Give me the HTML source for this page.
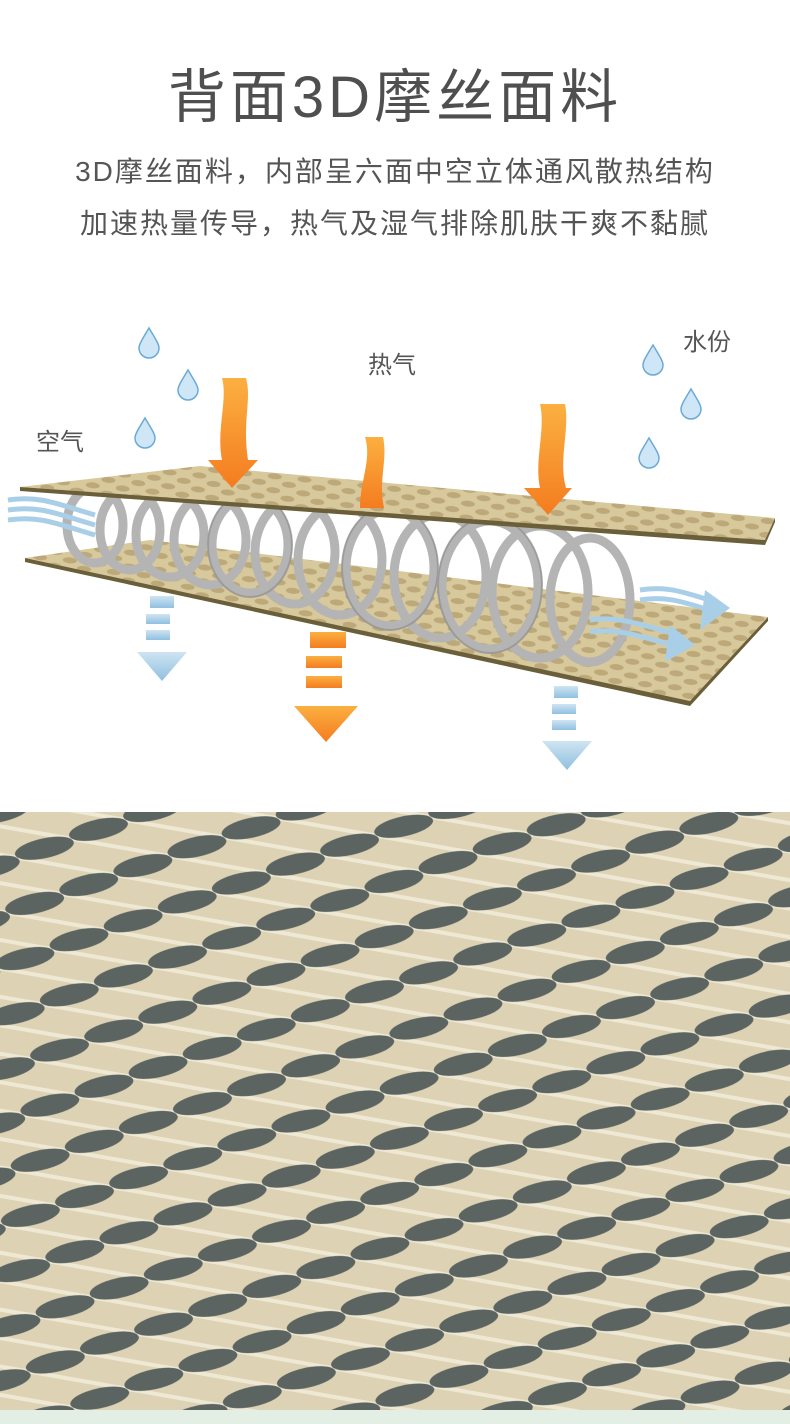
<!DOCTYPE html>
<html><head><meta charset="utf-8"><style>
body{margin:0;width:790px;height:1424px;background:#fff;overflow:hidden;font-family:"Liberation Sans","Noto Sans CJK SC",sans-serif;position:relative}
.t{position:absolute;left:0;width:790px;text-align:center;color:#555}
.lbl{position:absolute;font-size:24px;color:#555}
</style></head><body>
<div class="t" style="top:50px;font-size:58px;letter-spacing:4px;color:#4f4f4f">背面3D摩丝面料</div>
<div class="t" style="top:150px;font-size:28px;letter-spacing:2px">3D摩丝面料，内部呈六面中空立体通风散热结构</div>
<div class="t" style="top:202px;font-size:28px;letter-spacing:2px">加速热量传导，热气及湿气排除肌肤干爽不黏腻</div>
<div class="lbl" style="left:36px;top:422px">空气</div>
<div class="lbl" style="left:368px;top:345px">热气</div>
<div class="lbl" style="left:683px;top:322px">水份</div>
<svg width="790" height="800" style="position:absolute;left:0;top:0">
<defs>
<pattern id="hx" width="30" height="14" patternUnits="userSpaceOnUse" patternTransform="rotate(6)">
<rect width="30" height="14" fill="#d8c99c"/><ellipse cx="8" cy="4" rx="7" ry="3" fill="#bca878"/><ellipse cx="23" cy="11" rx="7" ry="3" fill="#bca878"/></pattern>
<linearGradient id="og" x1="0" y1="0" x2="0" y2="1"><stop offset="0" stop-color="#fbb040"/><stop offset="1" stop-color="#f47c20"/></linearGradient>
<linearGradient id="bg" x1="0" y1="0" x2="0" y2="1"><stop offset="0" stop-color="#cfe4f2"/><stop offset="1" stop-color="#8fc0e0"/></linearGradient>
<g id="drop"><path d="M0,-14 C6,-4 10,2 10,6 A10,10 0 0 1 -10,6 C-10,2 -6,-4 0,-14Z" fill="#cfe6f6" stroke="#6aaad6" stroke-width="1.5"/></g>
</defs>
<use href="#drop" x="149" y="342"/><use href="#drop" x="188" y="384"/><use href="#drop" x="145" y="432"/>
<use href="#drop" x="653" y="359"/><use href="#drop" x="691" y="403"/><use href="#drop" x="649" y="452"/>
<!-- bottom plate -->
<polygon points="25,558 150,540 768,617 690,701" fill="url(#hx)"/>
<polygon points="25,558 690,701 768,617 768,621 690,706 25,562" fill="#6b5f3a"/>
<!-- coils -->
<g fill="none" stroke="#b4b4b4" stroke-width="9">
<ellipse cx="95" cy="525" rx="28" ry="38"/><ellipse cx="130" cy="530" rx="30" ry="40"/><ellipse cx="170" cy="535" rx="34" ry="42"/><ellipse cx="210" cy="540" rx="36" ry="45"/>
<ellipse cx="250" cy="545" rx="38" ry="48"/><ellipse cx="295" cy="552" rx="40" ry="52"/><ellipse cx="340" cy="560" rx="42" ry="55"/>
<ellipse cx="390" cy="568" rx="44" ry="58"/><ellipse cx="440" cy="576" rx="46" ry="62"/><ellipse cx="490" cy="585" rx="48" ry="64"/>
<ellipse cx="540" cy="592" rx="48" ry="66"/><ellipse cx="590" cy="600" rx="40" ry="62"/>
</g>
<g fill="none" stroke="#8a8a8a" stroke-width="2" opacity=".6">
<ellipse cx="390" cy="568" rx="48" ry="62"/><ellipse cx="490" cy="585" rx="52" ry="68"/><ellipse cx="250" cy="545" rx="42" ry="52"/>
</g>
<!-- top plate -->
<polygon points="20,487 200,466 775,518 765,540" fill="url(#hx)"/>
<polygon points="20,487 765,540 775,518 775,522 765,545 20,491" fill="#6b5f3a"/>
<!-- wind lines -->
<g fill="none" stroke="#a9cfe8" stroke-width="5">
<path d="M8,500 C40,495 60,505 95,515"/><path d="M8,510 C40,505 60,515 95,525"/><path d="M8,520 C40,515 60,525 95,535"/>
<path d="M640,590 C670,585 690,595 710,600"/><path d="M640,600 C670,595 690,605 710,610"/>
<path d="M590,620 C620,615 650,628 680,635"/><path d="M590,632 C620,627 650,640 680,647"/>
</g>
<polygon points="705,590 730,608 700,630" fill="#a9cfe8"/><polygon points="670,625 695,645 665,662" fill="#a9cfe8"/>
<!-- orange arrows -->
<path d="M222,378 L246,378 C252,400 242,420 248,460 L258,460 L232,488 L208,460 L222,460 C216,430 228,400 222,378Z" fill="url(#og)"/>
<path d="M365,437 L383,437 C388,460 378,480 384,508 L360,508 C360,480 372,460 365,437Z" fill="url(#og)"/>
<path d="M540,404 L565,404 C570,430 558,460 566,488 L572,488 L548,515 L524,488 L540,488 C534,460 546,430 540,404Z" fill="url(#og)"/>
<g fill="url(#og)"><rect x="310" y="632" width="36" height="16"/><rect x="306" y="656" width="36" height="12"/><rect x="306" y="676" width="36" height="12"/>
<polygon points="294,706 358,706 326,742"/></g>
<!-- blue down arrows -->
<g fill="url(#bg)"><rect x="150" y="596" width="24" height="12"/><rect x="146" y="614" width="24" height="10"/><rect x="146" y="630" width="24" height="10"/>
<polygon points="137,652 187,652 162,681"/>
<rect x="554" y="686" width="24" height="12"/><rect x="552" y="704" width="24" height="10"/><rect x="552" y="720" width="24" height="10"/>
<polygon points="542,741 592,741 567,770"/></g>
</svg>
<svg width="790" height="612" style="position:absolute;left:0;top:812px">
<defs><pattern id="mesh" width="100" height="56" patternUnits="userSpaceOnUse" patternTransform="rotate(10)">
<rect width="100" height="56" fill="#ddd3b4"/>
<line x1="0" y1="14" x2="100" y2="14" stroke="#eee8d4" stroke-width="4"/>
<line x1="0" y1="42" x2="100" y2="42" stroke="#eee8d4" stroke-width="4"/>
<ellipse cx="0" cy="0" rx="30" ry="10" fill="#5b6461" transform="rotate(-22 0 0)"/>
<ellipse cx="100" cy="0" rx="30" ry="10" fill="#5b6461" transform="rotate(-22 100 0)"/>
<ellipse cx="0" cy="56" rx="30" ry="10" fill="#5b6461" transform="rotate(-22 0 56)"/>
<ellipse cx="100" cy="56" rx="30" ry="10" fill="#5b6461" transform="rotate(-22 100 56)"/>
<ellipse cx="50" cy="28" rx="30" ry="10" fill="#5b6461" transform="rotate(-22 50 28)"/>
</pattern></defs>
<rect width="790" height="598" fill="url(#mesh)"/>
<rect y="598" width="790" height="14" fill="#e3efe4"/>
</svg>
</body></html>
